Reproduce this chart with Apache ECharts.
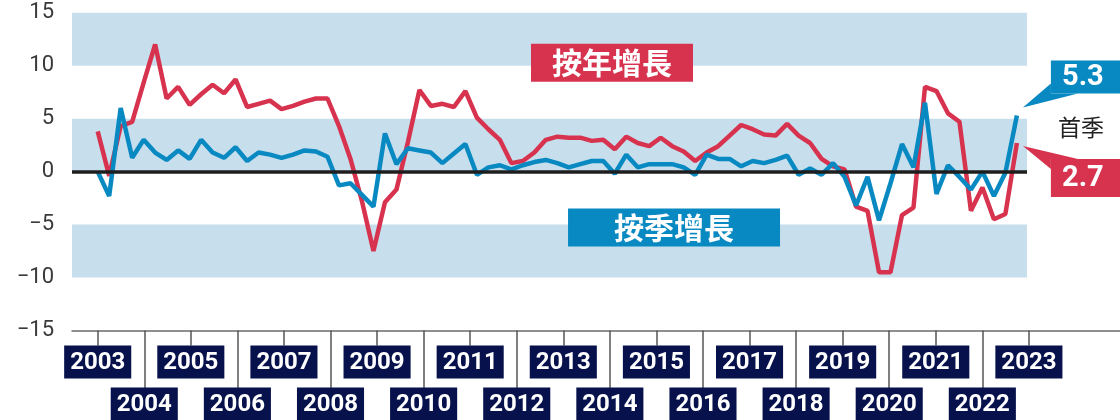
<!DOCTYPE html>
<html>
<head>
<meta charset="utf-8">
<script src="https://cdn.jsdelivr.net/npm/echarts@6/dist/echarts.min.js"></script>
<style>
  html, body { margin: 0; padding: 0; background: #fff; }
  #chart { width: 1120px; height: 420px; }
</style>
</head>
<body>
<div id="chart"></div>
<script>
// 季度：2003Q1 - 2023Q1
const quarters = [];
for (let y = 2003; y <= 2023; y++) {
  for (let q = 1; q <= 4; q++) {
    if (y === 2023 && q > 1) break;
    quarters.push(y + 'Q' + q);
  }
}

// 按年增長 (%)
const yoyGrowth = [
  3.8, -0.4, 4.3, 4.7,   8.4, 12.0, 6.9, 8.0,   6.3, 7.3, 8.2, 7.4,
  8.7, 6.1, 6.4, 6.7,    5.9, 6.2, 6.6, 6.9,    6.9, 4.3, 1.2, -2.8,
  -7.5, -2.9, -1.7, 2.8, 7.7, 6.2, 6.4, 6.1,    7.6, 5.1, 4.0, 3.0,
  0.8, 1.0, 1.8, 3.0,    3.3, 3.2, 3.2, 2.9,    3.0, 2.1, 3.3, 2.7,
  2.4, 3.2, 2.4, 1.9,    1.0, 1.8, 2.4, 3.4,    4.4, 4.0, 3.5, 3.4,
  4.5, 3.4, 2.7, 1.2,    0.5, 0.2, -3.3, -3.7,  -9.5, -9.5, -4.1, -3.4,
  8.0, 7.6, 5.5, 4.7,    -3.7, -1.5, -4.5, -4.0,
  2.7
];

// 按季增長 (%)
const qoqGrowth = [
  0.0, -2.3, 6.0, 1.3,   3.0, 1.8, 1.1, 2.0,    1.2, 3.0, 1.8, 1.3,
  2.3, 1.0, 1.8, 1.6,    1.3, 1.6, 2.0, 1.9,    1.4, -1.3, -1.1, -2.2,
  -3.3, 3.6, 0.7, 2.2,   2.0, 1.8, 0.8, 1.7,    2.6, -0.3, 0.4, 0.6,
  0.2, 0.6, 0.9, 1.1,    0.8, 0.4, 0.7, 1.0,    1.0, -0.2, 1.6, 0.4,
  0.7, 0.7, 0.7, 0.4,    -0.3, 1.6, 1.2, 1.2,   0.5, 1.0, 0.8, 1.1,
  1.5, -0.3, 0.3, -0.3,  0.8, -0.5, -3.2, -0.5, -4.6, -1.1, 2.6, 0.4,
  6.5, -2.1, 0.6, -0.5,  -1.7, 0.0, -2.3, -0.1,
  5.3
];

const seriesNames = ['按年增長', '按季增長'];
const oddYears = [2003, 2005, 2007, 2009, 2011, 2013, 2015, 2017, 2019, 2021, 2023];
const evenYears = [2004, 2006, 2008, 2010, 2012, 2014, 2016, 2018, 2020, 2022];
const bandRanges = [[10, 15], [0, 5], [-10, -5]];
const latestLabel = '首季';

const RED = '#d7334f';
const BLUE = '#0989c1';
const NAVY = '#07114b';

// 版面
const GRID_L = 72, CHART_W = 1120;
const X0 = 97.7, Q_PX = 11.49, YEAR_PX = 46.56, BAND_END_PX = 1027;
const idxMin = -(X0 - GRID_L) / Q_PX;
const idxMax = idxMin + (CHART_W - GRID_L) / Q_PX;
const bandEnd = (BAND_END_PX - X0) / Q_PX;
const yearMin = 2003 - (X0 - GRID_L) / YEAR_PX;
const yearMax = yearMin + (CHART_W - GRID_L) / YEAR_PX;

function yearAxis(years, tickLen, margin) {
  return {
    type: 'value',
    position: 'bottom',
    offset: 0,
    min: yearMin,
    max: yearMax,
    axisLine: { show: false, onZero: false },
    axisTick: { show: true, customValues: years, length: tickLen, lineStyle: { color: '#555', width: 1.5 } },
    axisLabel: {
      customValues: years,
      margin: margin,
      formatter: v => String(v),
      color: '#fff',
      backgroundColor: NAVY,
      fontFamily: 'Roboto',
      fontWeight: 'bold',
      fontSize: 24,
      lineHeight: 26,
      padding: [4, 6, 3, 6]
    },
    splitLine: { show: false }
  };
}

const chart = echarts.init(document.getElementById('chart'));

const option = {
  animation: false,
  grid: { left: GRID_L, right: 0, top: 12.7, bottom: 89.5, outerBoundsMode: 'none' },
  xAxis: [
    {
      type: 'value',
      min: idxMin,
      max: idxMax,
      axisLine: { onZero: false, lineStyle: { color: '#6b6b6b', width: 1.5 } },
      axisTick: { show: false },
      axisLabel: { show: false },
      splitLine: { show: false }
    },
    yearAxis(oddYears, 15, 15),
    yearAxis(evenYears, 58, 57)
  ],
  yAxis: {
    type: 'value',
    min: -15,
    max: 15,
    interval: 5,
    axisLine: { show: false },
    axisTick: { show: false },
    splitLine: { show: false },
    axisLabel: {
      margin: 18,
      color: '#3a3a3a',
      fontSize: 22,
      fontFamily: 'Roboto',
      formatter: v => (v < 0 ? '\u2212' + Math.abs(v) : String(v))
    }
  },
  series: [
    {
      // 背景色帶、零線、標籤
      type: 'line',
      data: [],
      silent: true,
      markArea: {
        silent: true,
        itemStyle: { color: '#c7deed' },
        data: bandRanges.map(([a, b]) => [{ xAxis: idxMin, yAxis: a }, { xAxis: bandEnd, yAxis: b }])
      },
      markLine: {
        silent: true,
        symbol: 'none',
        label: { show: false },
        lineStyle: { color: '#1e1e1e', width: 3.5, type: 'solid' },
        data: [[{ coord: [idxMin, 0] }, { coord: [bandEnd, 0] }]]
      },
      markPoint: {
        silent: true,
        symbol: 'rect',
        label: {
          show: true,
          position: 'inside',
          formatter: '{b}',
          color: '#fff',
          fontSize: 30,
          fontWeight: 'bold',
          fontFamily: 'Noto Sans CJK TC'
        },
        data: [
          { name: seriesNames[0], coord: [44.76, 10.28], symbolSize: [162, 38], itemStyle: { color: RED } },
          { name: seriesNames[1], coord: [50.16, -5.28], symbolSize: [212, 38], itemStyle: { color: BLUE } }
        ]
      }
    },
    {
      name: seriesNames[0],
      type: 'line',
      data: yoyGrowth.map((v, i) => [i, v]),
      showSymbol: false,
      z: 3,
      lineStyle: { color: RED, width: 4.5 }
    },
    {
      name: seriesNames[1],
      type: 'line',
      data: qoqGrowth.map((v, i) => [i, v]),
      showSymbol: false,
      z: 4,
      lineStyle: { color: BLUE, width: 4.5 }
    }
  ]
};

chart.setOption(option);

// 最新季度標註
const last = quarters.length - 1;
const pBlue = chart.convertToPixel({ seriesIndex: 2 }, [last, qoqGrowth[last]]);
const pRed = chart.convertToPixel({ seriesIndex: 1 }, [last, yoyGrowth[last]]);

const bL = pBlue[0] + 34, bT = pBlue[1] - 55, bH = 33;
const rL = pRed[0] + 34, rT = pRed[1] + 16, rH = 38;
const bigFont = 'bold 29px Roboto';

chart.setOption({
  graphic: [
    { type: 'polygon', z: 10, silent: true,
      shape: { points: [[pBlue[0] + 6, pBlue[1] - 8], [bL, bT + bH - 10], [bL, bT + bH], [bL + 27, bT + bH]] },
      style: { fill: BLUE } },
    { type: 'rect', z: 10, silent: true, shape: { x: bL, y: bT, width: 90, height: bH }, style: { fill: BLUE } },
    { type: 'text', z: 11, silent: true,
      style: { text: qoqGrowth[last].toFixed(1), x: bL + 32, y: bT + bH / 2 + 1, font: bigFont, fill: '#fff',
        align: 'center', verticalAlign: 'middle', textAlign: 'center', textVerticalAlign: 'middle' } },
    { type: 'polygon', z: 10, silent: true,
      shape: { points: [[pRed[0] + 6, pRed[1] + 3], [bL + 27, rT], [rL, rT], [rL, rT + 10]] },
      style: { fill: RED } },
    { type: 'rect', z: 10, silent: true, shape: { x: rL, y: rT, width: 90, height: rH }, style: { fill: RED } },
    { type: 'text', z: 11, silent: true,
      style: { text: yoyGrowth[last].toFixed(1), x: rL + 32, y: rT + rH / 2 + 1, font: bigFont, fill: '#fff',
        align: 'center', verticalAlign: 'middle', textAlign: 'center', textVerticalAlign: 'middle' } },
    { type: 'text', z: 11, silent: true,
      style: { text: latestLabel, x: bL + 30, y: (bT + bH + rT) / 2 + 1, font: '23px "Noto Sans CJK TC"', fill: '#222',
        align: 'center', verticalAlign: 'middle', textAlign: 'center', textVerticalAlign: 'middle' } }
  ]
});

window.addEventListener('resize', chart.resize);
</script>
</body>
</html>
